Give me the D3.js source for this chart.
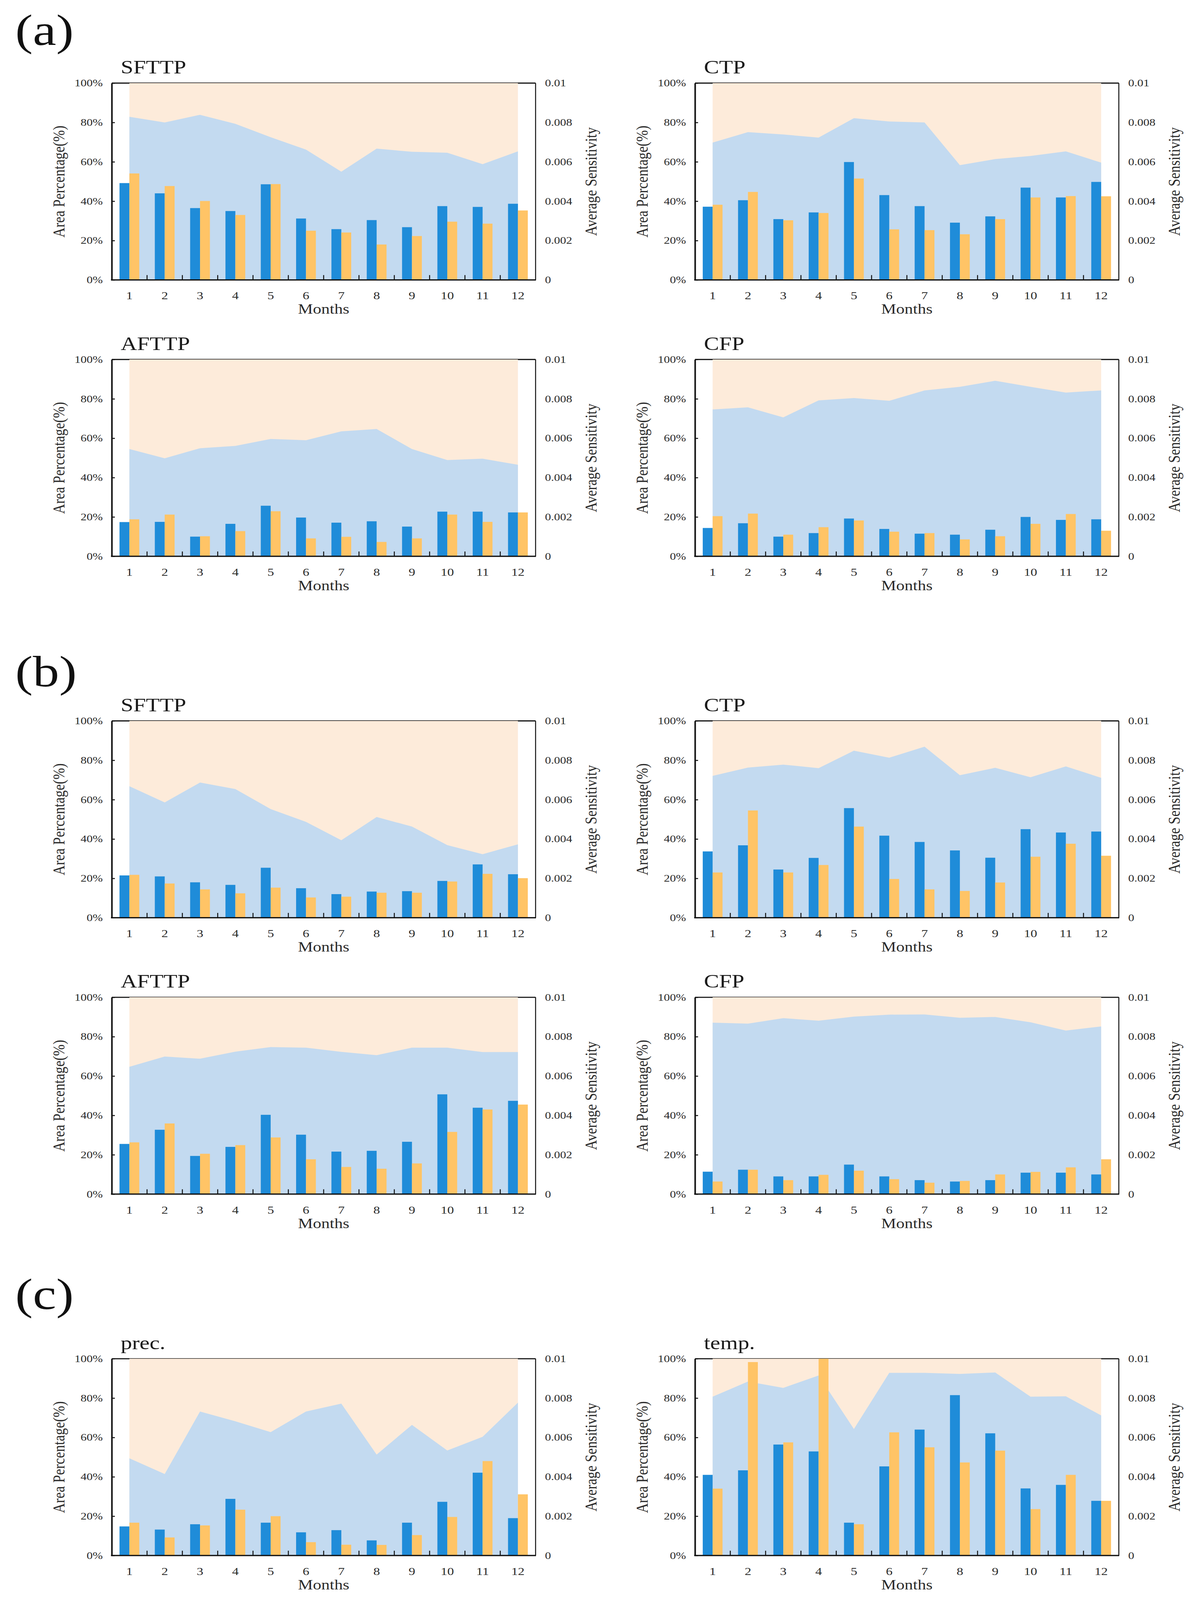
<!DOCTYPE html>
<html>
<head>
<meta charset="utf-8">
<script src="https://cdn.jsdelivr.net/npm/d3@7"></script>
<style>
  html, body { margin: 0; padding: 0; background: #ffffff; overflow: hidden; }
  svg { display: block; }
  text { font-family: "Liberation Serif", "Times New Roman", serif; }
</style>
</head>
<body>
<svg id="chart"></svg>
<script>
// ---------- data ----------
const months = ["1","2","3","4","5","6","7","8","9","10","11","12"];
const leftTicks = [0, 20, 40, 60, 80, 100];
const rightTicks = [0, 0.002, 0.004, 0.006, 0.008, 0.01];
const groupLabels = ["(a)", "(b)", "(c)"];

// (a)
const aSFTTP_area = [82.9, 80.0, 83.9, 79.3, 72.5, 66.2, 55.0, 66.7, 65.1, 64.6, 58.8, 65.3];
const aSFTTP_pct  = [49.2, 44.0, 36.5, 35.0, 48.6, 31.2, 25.8, 30.4, 26.8, 37.5, 37.1, 38.7];
const aSFTTP_sens = [0.00541, 0.00477, 0.00401, 0.00330, 0.00487, 0.00250, 0.00241, 0.00180, 0.00223, 0.00296, 0.00286, 0.00353];

const aCTP_area = [69.8, 75.1, 73.9, 72.3, 82.2, 80.5, 80.0, 58.3, 61.4, 63.0, 65.3, 59.6];
const aCTP_pct  = [37.2, 40.5, 30.9, 34.3, 59.9, 43.1, 37.5, 29.1, 32.3, 46.9, 41.9, 49.8];
const aCTP_sens = [0.00382, 0.00447, 0.00303, 0.00340, 0.00515, 0.00257, 0.00253, 0.00232, 0.00309, 0.00419, 0.00426, 0.00425];

const aAFTTP_area = [54.5, 49.8, 54.9, 56.1, 59.6, 59.0, 63.5, 64.7, 54.5, 48.9, 49.6, 46.5];
const aAFTTP_pct  = [17.4, 17.5, 10.0, 16.5, 25.7, 19.7, 17.1, 17.8, 15.1, 22.7, 22.7, 22.3];
const aAFTTP_sens = [0.00188, 0.00212, 0.00102, 0.00128, 0.00229, 0.00091, 0.00099, 0.00073, 0.00091, 0.00212, 0.00175, 0.00223];

const aCFP_area = [74.6, 75.7, 70.6, 79.2, 80.4, 79.0, 84.3, 86.1, 89.2, 86.1, 83.2, 84.3];
const aCFP_pct  = [14.4, 16.8, 10.0, 11.8, 19.2, 13.9, 11.5, 11.0, 13.5, 20.0, 18.5, 18.8];
const aCFP_sens = [0.00204, 0.00217, 0.00110, 0.00148, 0.00182, 0.00125, 0.00118, 0.00086, 0.00102, 0.00165, 0.00215, 0.00130];

// (b)
const bSFTTP_area = [66.8, 58.6, 68.7, 65.4, 55.2, 48.7, 39.4, 51.2, 46.3, 36.9, 32.3, 37.3];
const bSFTTP_pct  = [21.5, 21.0, 18.0, 16.7, 25.4, 15.0, 12.0, 13.3, 13.5, 18.7, 27.1, 22.1];
const bSFTTP_sens = [0.00218, 0.00174, 0.00144, 0.00124, 0.00153, 0.00103, 0.00107, 0.00127, 0.00127, 0.00184, 0.00223, 0.00201];

const bCTP_area = [72.1, 76.3, 77.8, 76.0, 84.9, 81.3, 86.9, 72.4, 76.2, 71.4, 76.9, 71.1];
const bCTP_pct  = [33.7, 36.8, 24.5, 30.4, 55.7, 41.7, 38.5, 34.2, 30.5, 45.0, 43.3, 43.8];
const bCTP_sens = [0.00230, 0.00545, 0.00230, 0.00268, 0.00463, 0.00197, 0.00144, 0.00136, 0.00179, 0.00310, 0.00376, 0.00315];

const bAFTTP_area = [64.7, 69.9, 68.8, 72.4, 74.7, 74.4, 72.3, 70.6, 74.4, 74.4, 72.2, 72.2];
const bAFTTP_pct  = [25.5, 32.7, 19.4, 24.0, 40.3, 30.2, 21.6, 22.0, 26.6, 50.7, 43.9, 47.4];
const bAFTTP_sens = [0.00263, 0.00359, 0.00205, 0.00249, 0.00288, 0.00177, 0.00138, 0.00129, 0.00156, 0.00316, 0.00430, 0.00455];

const bCFP_area = [87.1, 86.6, 89.4, 88.1, 90.2, 91.2, 91.3, 89.6, 90.0, 87.3, 83.1, 85.2];
const bCFP_pct  = [11.4, 12.4, 9.0, 9.0, 15.0, 9.0, 7.1, 6.4, 7.1, 10.9, 10.9, 10.0];
const bCFP_sens = [0.00064, 0.00124, 0.00071, 0.00098, 0.00119, 0.00076, 0.00058, 0.00067, 0.00100, 0.00113, 0.00136, 0.00177];

// (c)
const cPrec_area = [49.4, 41.4, 73.2, 68.2, 62.7, 73.2, 77.2, 51.3, 66.4, 53.4, 60.3, 77.7];
const cPrec_pct  = [14.8, 13.2, 15.9, 28.8, 16.7, 11.8, 12.9, 7.7, 16.7, 27.3, 42.1, 19.0];
const cPrec_sens = [0.00167, 0.00092, 0.00153, 0.00233, 0.00200, 0.00068, 0.00055, 0.00054, 0.00104, 0.00196, 0.00480, 0.00311];

const cTemp_area = [80.7, 88.4, 85.2, 91.5, 64.3, 92.8, 92.8, 92.3, 93.0, 80.7, 80.9, 71.2];
const cTemp_pct  = [41.0, 43.3, 56.4, 52.9, 16.7, 45.3, 64.0, 81.5, 62.1, 34.1, 35.9, 27.8];
const cTemp_sens = [0.00340, 0.00983, 0.00575, 0.01000, 0.00159, 0.00626, 0.00550, 0.00473, 0.00533, 0.00236, 0.00410, 0.00278];

// ---------- layout ----------
const FULL_W = 3059, FULL_H = 4967;
const PW = 1085, PH = 611;
const colX = [286, 1779];
const rowY = [258, 1116, 2238, 3096, 4218];
const groupLabelPos = [[39, 139], [39, 2131], [39, 4064]];

const panels = [
  {title: "SFTTP", col: 0, row: 0, area: aSFTTP_area, pct: aSFTTP_pct, sens: aSFTTP_sens},
  {title: "CTP",   col: 1, row: 0, area: aCTP_area,   pct: aCTP_pct,   sens: aCTP_sens},
  {title: "AFTTP", col: 0, row: 1, area: aAFTTP_area, pct: aAFTTP_pct, sens: aAFTTP_sens},
  {title: "CFP",   col: 1, row: 1, area: aCFP_area,   pct: aCFP_pct,   sens: aCFP_sens},
  {title: "SFTTP", col: 0, row: 2, area: bSFTTP_area, pct: bSFTTP_pct, sens: bSFTTP_sens},
  {title: "CTP",   col: 1, row: 2, area: bCTP_area,   pct: bCTP_pct,   sens: bCTP_sens},
  {title: "AFTTP", col: 0, row: 3, area: bAFTTP_area, pct: bAFTTP_pct, sens: bAFTTP_sens},
  {title: "CFP",   col: 1, row: 3, area: bCFP_area,   pct: bCFP_pct,   sens: bCFP_sens},
  {title: "prec.", col: 0, row: 4, area: cPrec_area,  pct: cPrec_pct,  sens: cPrec_sens},
  {title: "temp.", col: 1, row: 4, area: cTemp_area,  pct: cTemp_pct,  sens: cTemp_sens}
];

const COLORS = {
  peach: "#FDEBDA",
  lightBlue: "#C3DAF0",
  blue: "#1F8CD9",
  orange: "#FFC466",
  axis: "#111111",
  text: "#2a2a2a"
};

// fit the full figure into whatever viewport the browser offers
const vw = window.innerWidth || FULL_W;
const vh = Math.min(window.innerHeight || FULL_H, FULL_H);
const svg = d3.select("#chart")
  .attr("width", vw)
  .attr("height", vh)
  .attr("viewBox", `0 0 ${FULL_W} ${FULL_H}`)
  .attr("preserveAspectRatio", "none");

svg.append("rect").attr("width", FULL_W).attr("height", FULL_H).attr("fill", "#ffffff");

// group labels
svg.selectAll("text.group").data(groupLabels).enter().append("text")
  .attr("class", "group")
  .attr("x", (d, i) => groupLabelPos[i][0])
  .attr("y", (d, i) => groupLabelPos[i][1])
  .attr("font-size", 135)
  .attr("fill", "#111")
  .text(d => d);

const x = d3.scaleBand().domain(months).range([0, PW]);
const cx = m => x(m) + x.bandwidth() / 2;
const yL = d3.scaleLinear().domain([0, 100]).range([PH, 0]);
const yR = d3.scaleLinear().domain([0, 0.01]).range([PH, 0]);
const barW = x.bandwidth() * 0.28;

panels.forEach(p => {
  const g = svg.append("g").attr("transform", `translate(${colX[p.col]},${rowY[p.row]})`);

  // frame top and right lines (drawn under the areas)
  g.append("line").attr("x1", 0).attr("x2", PW).attr("y1", 0).attr("y2", 0)
    .attr("stroke", COLORS.axis).attr("stroke-width", 3.5);
  g.append("line").attr("x1", PW).attr("x2", PW).attr("y1", 0).attr("y2", PH)
    .attr("stroke", COLORS.axis).attr("stroke-width", 2.5);

  // peach background area
  const peach = d3.area().x(d => cx(d)).y0(yL(0)).y1(yL(100));
  g.append("path").datum(months).attr("d", peach).attr("fill", COLORS.peach);

  // light blue area
  const rows = months.map((m, i) => ({m, a: p.area[i], b: p.pct[i], s: p.sens[i]}));
  const blueArea = d3.area().x(d => cx(d.m)).y0(yL(0)).y1(d => yL(d.a));
  g.append("path").datum(rows).attr("d", blueArea).attr("fill", COLORS.lightBlue);

  // bars
  g.selectAll("rect.pct").data(rows).enter().append("rect")
    .attr("x", d => cx(d.m) - barW)
    .attr("width", barW)
    .attr("y", d => yL(d.b))
    .attr("height", d => yL(0) - yL(d.b))
    .attr("fill", COLORS.blue);
  g.selectAll("rect.sens").data(rows).enter().append("rect")
    .attr("x", d => cx(d.m))
    .attr("width", barW)
    .attr("y", d => yR(d.s))
    .attr("height", d => yR(0) - yR(d.s))
    .attr("fill", COLORS.orange);

  // bottom axis labels
  const xAxis = d3.axisBottom(x).tickSize(0).tickPadding(36);
  const gx = g.append("g").attr("transform", `translate(0,${PH})`).call(xAxis);
  gx.select(".domain").remove();
  gx.selectAll("text").attr("font-size", 34).attr("fill", COLORS.text)
    .attr("font-family", "Liberation Serif, serif");

  // tick marks at band boundaries (inward)
  g.selectAll("line.btick").data(months.slice(1)).enter().append("line")
    .attr("x1", d => x(d)).attr("x2", d => x(d))
    .attr("y1", PH).attr("y2", PH - 15)
    .attr("stroke", COLORS.axis).attr("stroke-width", 2.5);

  // bottom axis line
  g.append("line").attr("x1", -2).attr("x2", PW + 1).attr("y1", PH).attr("y2", PH)
    .attr("stroke", COLORS.axis).attr("stroke-width", 4);

  // left axis
  const yAxisL = d3.axisLeft(yL).tickValues(leftTicks).tickFormat(d => d + "%")
    .tickSize(-8).tickSizeOuter(0).tickPadding(23);
  const gl = g.append("g").call(yAxisL);
  gl.select(".domain").attr("stroke", COLORS.axis).attr("stroke-width", 4);
  gl.selectAll(".tick line").attr("stroke", COLORS.axis).attr("stroke-width", 3);
  gl.selectAll("text").attr("font-size", 31).attr("fill", COLORS.text)
    .attr("font-family", "Liberation Serif, serif");

  // right axis
  const yAxisR = d3.axisRight(yR).tickValues(rightTicks)
    .tickFormat(d => d === 0 ? "0" : (d === 0.01 ? "0.01" : d3.format(".3f")(d)))
    .tickSize(0).tickSizeOuter(0).tickPadding(24);
  const gr = g.append("g").attr("transform", `translate(${PW},0)`).call(yAxisR);
  gr.select(".domain").remove();
  gr.selectAll("text").attr("font-size", 31).attr("fill", COLORS.text)
    .attr("font-family", "Liberation Serif, serif");

  // titles
  g.append("text").attr("x", 23).attr("y", -30)
    .attr("font-size", 58).attr("fill", "#1a1a1a").text(p.title);
  g.append("text").attr("x", PW / 2).attr("y", PH + 105)
    .attr("text-anchor", "middle").attr("font-size", 43).attr("fill", COLORS.text).text("Months");
  g.append("text").attr("transform", `translate(${-135},${PH / 2}) rotate(-90)`)
    .attr("text-anchor", "middle").attr("dominant-baseline", "central")
    .attr("font-size", 43).attr("fill", COLORS.text).text("Area Percentage(%)");
  g.append("text").attr("transform", `translate(${PW + 142},${PH / 2}) rotate(-90)`)
    .attr("text-anchor", "middle").attr("dominant-baseline", "central")
    .attr("font-size", 43).attr("fill", COLORS.text).text("Average Sensitivity");
});
</script>
</body>
</html>
